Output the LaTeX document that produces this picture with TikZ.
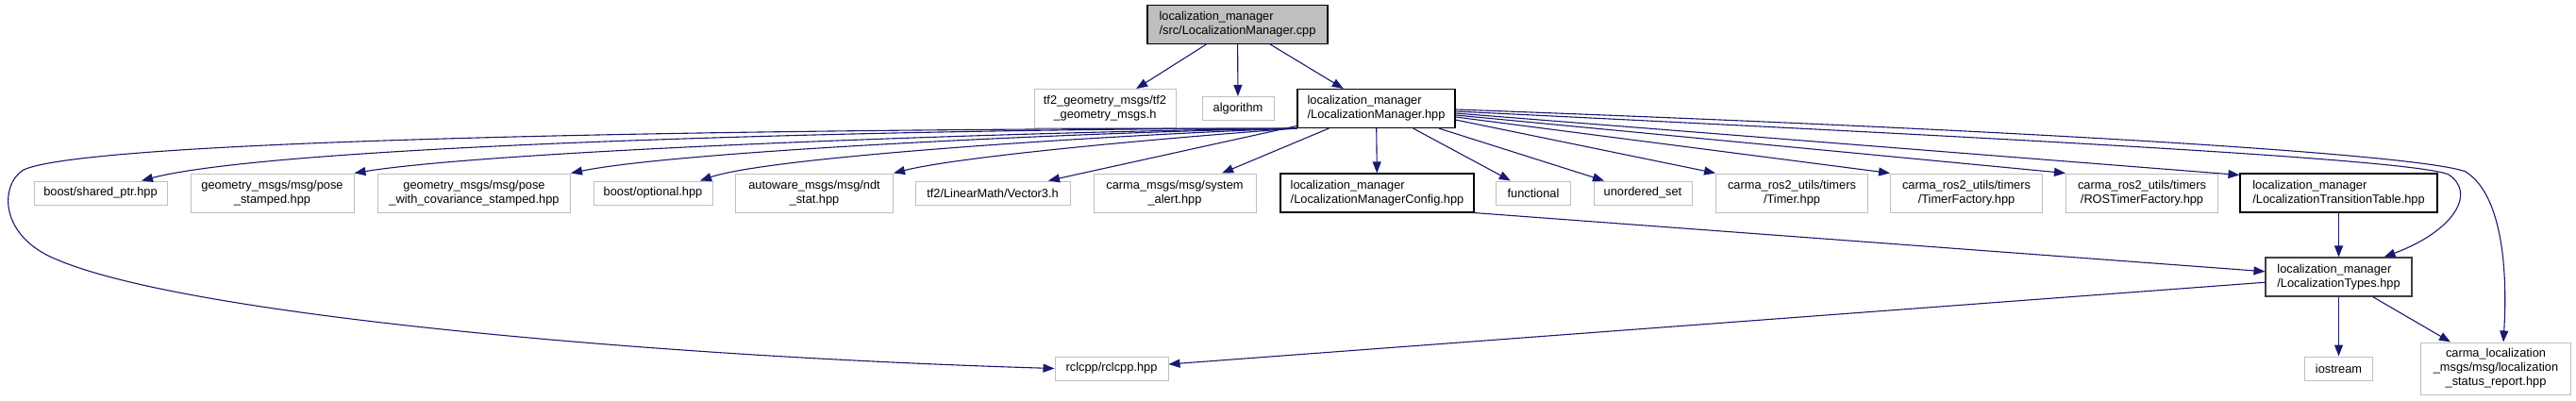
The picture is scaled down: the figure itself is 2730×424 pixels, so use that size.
\documentclass[tikz,border=0pt]{standalone}
\usepackage{fontspec}
\setmainfont{Liberation Sans}
\usepackage{xcolor}
\usepackage{tikz}
\usetikzlibrary{arrows.meta}
\definecolor{edgeblue}{HTML}{191970}
\definecolor{filegray}{HTML}{BFBFBF}
\definecolor{rootfill}{HTML}{BFBFBF}
\definecolor{typesgray}{HTML}{404040}

\begin{document}
\begin{tikzpicture}[x=1pt, y=-1pt,
    every node/.style={font=\fontsize{12.8}{15}\selectfont, inner sep=0pt},
    sysfile/.style={draw=filegray, line width=1pt, fill=white, align=center},
    docfile/.style={draw=black, line width=1.1pt, fill=white, align=left},
    oneline/.style={minimum height=25pt},
    twoline/.style={minimum height=41pt},
    threeline/.style={minimum height=55pt},
    inc/.style={draw=edgeblue, line width=1.1pt, -{Triangle[length=12pt, width=9pt]}}]
    \useasboundingbox (0, 0) rectangle (2730, 424);
    % Nodes
    \node[docfile, twoline, fill=rootfill, minimum width=191pt] (root) at (1311.5, 26) {localization\_manager\\/src/LocalizationManager.cpp};
    \node[sysfile, twoline, minimum width=150pt] (tfgeom) at (1171, 115) {tf2\_geometry\_msgs/tf2\\\_geometry\_msgs.h};
    \node[sysfile, oneline, minimum width=76pt] (algorithm) at (1312, 115) {algorithm};
    \node[docfile, twoline, minimum width=167pt] (lmh) at (1458.5, 115) {localization\_manager\\/LocalizationManager.hpp};

    \node[sysfile, oneline, minimum width=141pt] (sharedptr) at (106.5, 204.5) {boost/shared\_ptr.hpp};
    \node[sysfile, twoline, minimum width=173pt] (posest) at (288.5, 204.5) {geometry\_msgs/msg/pose\\\_stamped.hpp};
    \node[sysfile, twoline, minimum width=204pt] (posecov) at (502.5, 204.5) {geometry\_msgs/msg/pose\\\_with\_covariance\_stamped.hpp};
    \node[sysfile, oneline, minimum width=126pt] (optional) at (692, 204.5) {boost/optional.hpp};
    \node[sysfile, twoline, minimum width=167pt] (ndtstat) at (863, 204.5) {autoware\_msgs/msg/ndt\\\_stat.hpp};
    \node[sysfile, oneline, minimum width=164pt] (vecthree) at (1052, 204.5) {tf2/LinearMath/Vector3.h};
    \node[sysfile, twoline, minimum width=172pt] (sysalert) at (1245, 204.5) {carma\_msgs/msg/system\\\_alert.hpp};
    \node[docfile, twoline, minimum width=205pt] (lmcfg) at (1459.5, 204.5) {localization\_manager\\/LocalizationManagerConfig.hpp};
    \node[sysfile, oneline, minimum width=79pt] (functional) at (1625, 204.5) {functional};
    \node[sysfile, oneline, minimum width=104pt] (uset) at (1741, 204.5) {unordered\_set};
    \node[sysfile, twoline, minimum width=161pt] (timer) at (1899, 204.5) {carma\_ros2\_utils/timers\\/Timer.hpp};
    \node[sysfile, twoline, minimum width=161pt] (tfactory) at (2084, 204.5) {carma\_ros2\_utils/timers\\/TimerFactory.hpp};
    \node[sysfile, twoline, minimum width=161pt] (rostfactory) at (2270, 204.5) {carma\_ros2\_utils/timers\\/ROSTimerFactory.hpp};
    \node[docfile, twoline, minimum width=209pt] (ttable) at (2478.5, 204.5) {localization\_manager\\/LocalizationTransitionTable.hpp};

    \node[docfile, twoline, draw=typesgray, minimum width=155pt] (ltypes) at (2478.5, 293.5) {localization\_manager\\/LocalizationTypes.hpp};

    \node[sysfile, oneline, minimum width=120pt] (rclcpp) at (1178, 390.5) {rclcpp/rclcpp.hpp};
    \node[sysfile, oneline, minimum width=72pt] (iostream) at (2478.5, 390.5) {iostream};
    \node[sysfile, threeline, minimum width=159pt] (statusrep) at (2645, 390.5) {carma\_localization\\\_msgs/msg/localization\\\_status\_report.hpp};

    % Paths
    \draw[inc] (root) -- (tfgeom);
    \draw[inc] (root) -- (algorithm);
    \draw[inc] (root) -- (lmh);

    \draw[inc] (lmh.south west) .. controls (900, 136) and (100, 145) .. (25, 180)
        .. controls (0, 195) and (-2, 250) .. (60, 275)
        .. controls (200, 335) and (700, 378) .. (rclcpp.west);
    \draw[inc] (lmh.south west) .. controls (1000, 136) and (300, 152) .. ([xshift=43.5pt]sharedptr.north);
    \draw[inc] (lmh.south west) .. controls (1050, 140) and (520, 160) .. (posest.north east);
    \draw[inc] (lmh.south west) .. controls (1150, 140) and (720, 160) .. (posecov.north east);
    \draw[inc] (lmh.south west) .. controls (1200, 142) and (820, 165) .. ([xshift=50pt]optional.north);
    \draw[inc] (lmh.south west) .. controls (1250, 145) and (1020, 165) .. (ndtstat.north east);
    \draw[inc] (lmh) -- (vecthree);
    \draw[inc] (lmh) -- (sysalert);
    \draw[inc] (lmh) -- (lmcfg);
    \draw[inc] (lmh) -- (functional);
    \draw[inc] (lmh) -- (uset);
    \draw[inc] ([yshift=-12pt]lmh.east) -- (timer.north west);
    \draw[inc] ([yshift=-9pt]lmh.east) -- (tfactory.north west);
    \draw[inc] ([yshift=-7pt]lmh.east) -- (rostfactory.north west);
    \draw[inc] ([yshift=-5pt]lmh.east) -- ([yshift=-2pt]ttable.north west);
    \draw[inc] ([yshift=-3pt]lmh.east) .. controls (2200, 150) and (2560, 170) .. (2595, 185)
        .. controls (2625, 205) and (2600, 245) .. ([xshift=48pt]ltypes.north);
    \draw[inc] ([yshift=-1pt]lmh.east) .. controls (2200, 140) and (2570, 165) .. (2613, 182)
        .. controls (2650, 205) and (2658, 280) .. ([xshift=8pt]statusrep.north);

    \draw[inc] (lmcfg.south east) -- (ltypes);
    \draw[inc] (ttable) -- (ltypes);
    \draw[inc] (ltypes) -- (rclcpp);
    \draw[inc] (ltypes) -- (iostream);
    \draw[inc] (ltypes) -- (statusrep);
  \end{tikzpicture}
\end{document}
